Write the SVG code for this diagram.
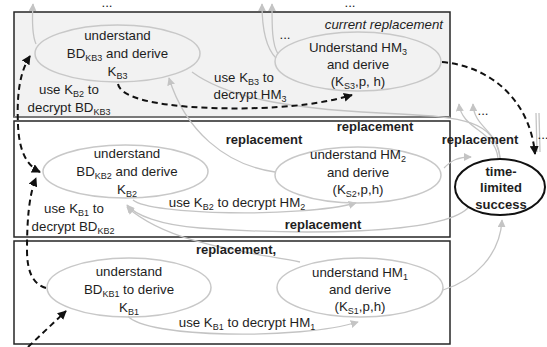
<svg xmlns="http://www.w3.org/2000/svg" width="547" height="347" viewBox="0 0 547 347">
<style>
text{font-family:"Liberation Sans",Arial,sans-serif;fill:#1e1e1e}
.t{font-size:13.3px;text-anchor:middle}
.b{font-size:13px;font-weight:bold;text-anchor:middle}
.s{font-size:9px}
.it{font-size:13.3px;font-style:italic;text-anchor:end}
.el{fill:none;stroke:#c8c8c8;stroke-width:1.5}
.g{fill:none;stroke:#c4c4c4;stroke-width:1.3}
.ga{fill:none;stroke:#c4c4c4;stroke-width:1.3;marker-end:url(#ga)}
.d{fill:none;stroke:#111;stroke-width:2;stroke-dasharray:6 4}
.de{marker-end:url(#da)}
.panel{stroke:#262626;stroke-width:1.5}
</style>
<defs>
<marker id="ga" viewBox="0 0 10 10" refX="9" refY="5" markerWidth="8" markerHeight="8" markerUnits="userSpaceOnUse" orient="auto"><path d="M0,0 L10,5 L0,10 z" fill="#c4c4c4"/></marker>
<marker id="da" viewBox="0 0 10 10" refX="9" refY="5" markerWidth="9" markerHeight="9" markerUnits="userSpaceOnUse" orient="auto-start-reverse"><path d="M0,0 L10,5 L0,10 z" fill="#111"/></marker>
</defs>

<g id="panels">
<rect id="level3" x="14" y="12" width="436" height="105" fill="#f2f2f2" class="panel"/>
<line x1="14" y1="117" x2="450" y2="117" stroke="#7a7a7a" stroke-width="2"/>
<rect id="level2" x="14" y="121" width="436" height="116" fill="#fff" class="panel"/>
<rect id="level1" x="14" y="241" width="436" height="103" fill="#fff" class="panel"/>
<text class="it" x="443" y="29">current replacement</text>
</g>

<g id="connectors">
<path class="ga" d="M36 44 C32 35 32 20 33 4"/>
<path class="ga" d="M276 58 C266 48 262 30 262 4"/>
<path class="ga" d="M278 54 C272 44 272 28 272 4"/>
<path class="ga" d="M275 172 C225 165 185 130 169 78"/>
<path class="g" d="M192 72 C230 100 300 110 400 114 C460 117 495 120 500 158"/>
<path class="ga" d="M498 158 C495 130 462 130 459 104"/>
<path class="ga" d="M500 158 C498 130 474 128 473 104"/>
<path class="ga" d="M444 168 C452 160 458 157 471 157"/>
<path class="ga" d="M133 200 C150 215 300 218 356 203"/>
<path class="ga" d="M468 208 C440 235 300 235 200 228 C160 225 135 215 127 205"/>
<path class="ga" d="M300 262 C250 252 170 245 127 207"/>
<path class="ga" d="M443 290 C475 280 500 255 502 220"/>
<path class="ga" d="M128 316 C145 338 300 340 358 322"/>
<path class="g" d="M536 113 L537 152 M539 113 L540 152"/>
<path class="d de" d="M118 84 C122 105 200 110 260 108 C310 106 335 100 352 95"/>
<path class="d de" d="M442 62 C490 66 530 100 535 154"/>
<path class="d de" d="M30 56 C18 75 17 100 18 125 C19 150 26 165 40 172" marker-start="url(#da)"/>
<path class="d de" d="M46 288 C32 284 27 270 27 250 C27 220 29 195 36 178"/>
<path class="d de" d="M28 347 L66 311"/>
<text class="b" x="375" y="131">replacement</text>
<text class="b" x="264" y="144">replacement</text>
<text class="b" x="480" y="144">replacement</text>
<text class="b" x="323" y="229">replacement</text>
<text class="b" x="236" y="254">replacement,</text>
<text class="t" x="69" y="94">use K<tspan class="s" dy="3">B2</tspan><tspan dy="-3"> to</tspan></text>
<text class="t" x="69" y="112">decrypt BD<tspan class="s" dy="3">KB3</tspan></text>
<text class="t" x="244" y="82">use K<tspan class="s" dy="3">B3</tspan><tspan dy="-3"> to</tspan></text>
<text class="t" x="250" y="99">decrypt HM<tspan class="s" dy="3">3</tspan></text>
<text class="t" x="237" y="207">use K<tspan class="s" dy="3">B2</tspan><tspan dy="-3"> to decrypt HM</tspan><tspan class="s" dy="3">2</tspan></text>
<text class="t" x="74" y="213">use K<tspan class="s" dy="3">B1</tspan><tspan dy="-3"> to</tspan></text>
<text class="t" x="73" y="231">decrypt BD<tspan class="s" dy="3">KB2</tspan></text>
<text class="t" x="247" y="327">use K<tspan class="s" dy="3">B1</tspan><tspan dy="-3"> to decrypt HM</tspan><tspan class="s" dy="3">1</tspan></text>
<text class="t" x="107" y="7">...</text>
<text class="t" x="350" y="7">...</text>
<text class="t" x="285" y="39">...</text>
<text class="t" x="483" y="115">...</text>
<text class="t" x="543" y="139">...</text>
</g>

<g id="n_bd3">
<ellipse class="el" cx="117.5" cy="53.5" rx="82.5" ry="28.5"/>
<text class="t" x="117.5" y="40">understand</text>
<text class="t" x="117.5" y="58">BD<tspan class="s" dy="3">KB3</tspan><tspan dy="-3"> and derive</tspan></text>
<text class="t" x="117.5" y="76">K<tspan class="s" dy="3">B3</tspan></text>
</g>
<g id="n_hm3">
<ellipse class="el" cx="358" cy="61.5" rx="83" ry="29.5"/>
<text class="t" x="358" y="52">Understand HM<tspan class="s" dy="3">3</tspan></text>
<text class="t" x="358" y="69">and derive</text>
<text class="t" x="358" y="86">(K<tspan class="s" dy="3">S3</tspan><tspan dy="-3">,p, h)</tspan></text>
</g>
<g id="n_bd2">
<ellipse class="el" cx="125.5" cy="171.5" rx="82.5" ry="26.5"/>
<text class="t" x="127" y="158">understand</text>
<text class="t" x="127" y="176">BD<tspan class="s" dy="3">KB2</tspan><tspan dy="-3"> and derive</tspan></text>
<text class="t" x="127" y="194">K<tspan class="s" dy="3">B2</tspan></text>
</g>
<g id="n_hm2">
<ellipse class="el" cx="358" cy="175" rx="83" ry="28"/>
<text class="t" x="358" y="159">understand HM<tspan class="s" dy="3">2</tspan></text>
<text class="t" x="358" y="177">and derive</text>
<text class="t" x="358" y="194">(K<tspan class="s" dy="3">S2</tspan><tspan dy="-3">,p,h)</tspan></text>
</g>
<g id="n_bd1">
<ellipse class="el" cx="129" cy="287.5" rx="82" ry="29.5"/>
<text class="t" x="129" y="276">understand</text>
<text class="t" x="129" y="294">BD<tspan class="s" dy="3">KB1</tspan><tspan dy="-3"> to derive</tspan></text>
<text class="t" x="129" y="312">K<tspan class="s" dy="3">B1</tspan></text>
</g>
<g id="n_hm1">
<ellipse class="el" cx="360" cy="287.5" rx="83" ry="29.5"/>
<text class="t" x="360" y="277">understand HM<tspan class="s" dy="3">1</tspan></text>
<text class="t" x="360" y="294">and derive</text>
<text class="t" x="360" y="311">(K<tspan class="s" dy="3">S1</tspan><tspan dy="-3">,p,h)</tspan></text>
</g>
<g id="n_success">
<ellipse cx="500" cy="187" rx="45" ry="28" fill="#fff" stroke="#111" stroke-width="2"/>
<text class="b" x="501" y="176">time-</text>
<text class="b" x="501" y="192">limited</text>
<text class="b" x="501" y="209">success</text>
</g>
</svg>
